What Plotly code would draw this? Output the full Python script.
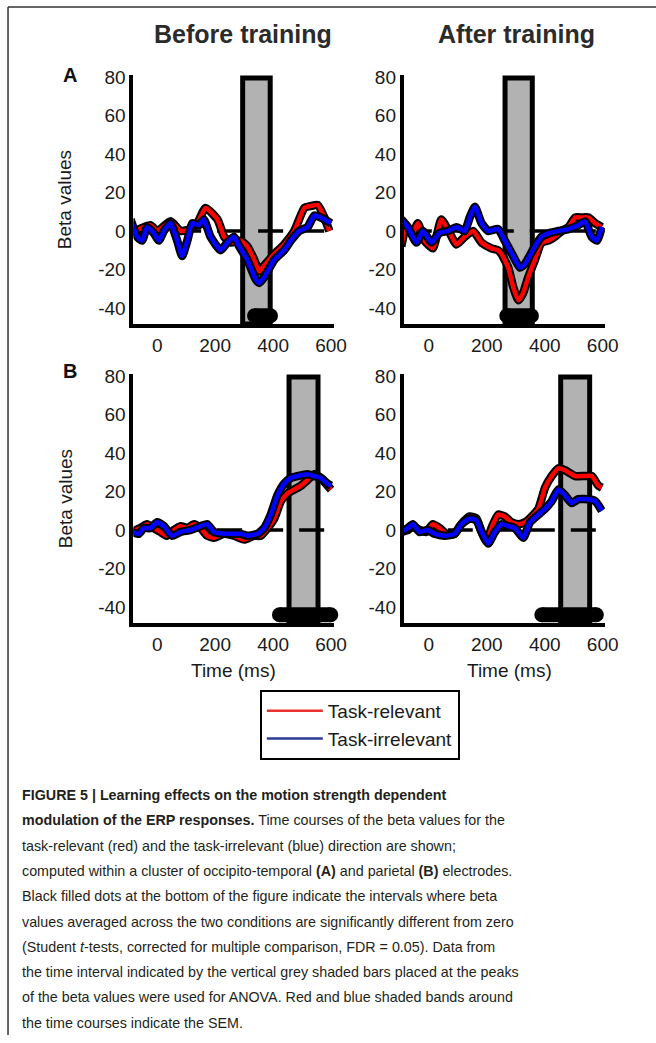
import plotly.graph_objects as go

W, H = 656, 1043          # requested figure size
PW, PH = 640, 1035        # effective drawing area observed in the browser

# ---------------- data ----------------
# Panel A (occipito-temporal), before training
a_before_red_t = [-92, -46, -23, 0, 46, 81, 115, 138, 167, 208, 231, 254, 288, 311, 335, 352, 369, 404, 438, 473, 508, 531, 554, 577, 594]
a_before_red_v = [-1, 2, 3, 0, 5, 0, 1, 4, 12, 6, -3, -6, -5, -8, -15, -21, -18, -12, -7, 0, 12, 13, 13.5, 7, 0]
a_before_blue_t = [-92, -69, -52, -35, -12, 6, 23, 46, 69, 86, 104, 121, 144, 161, 184, 219, 242, 265, 283, 311, 340, 352, 369, 404, 438, 461, 490, 519, 542, 565, 600]
a_before_blue_v = [6, -3, -5, 2, -1, -5, 0, 4, -5, -13, -5, 4, 3, 6, -3, -10, -6, -3, -8, -15, -25, -27, -24, -15, -10, -5, 0, 2, 8, 7, 4]

# Panel A, after training
a_after_red_t = [-95, -78, -55, -38, -15, 14, 43, 72, 95, 124, 153, 182, 216, 239, 251, 274, 291, 309, 326, 343, 366, 389, 412, 435, 459, 482, 505, 528, 551, 574, 597]
a_after_red_v = [-8, 2, -1, 4, -5, -9, 6, -1, -7, -3, 0, -6, -9, -10, -12, -19, -29, -36, -32, -24, -15, -6, -5, -3, 0, 2, 7, 7, 7, 4, 2]
a_after_blue_t = [-95, -72, -43, -20, 9, 37, 66, 95, 124, 141, 159, 182, 205, 239, 262, 291, 314, 332, 366, 389, 418, 447, 482, 516, 539, 562, 580, 597]
a_after_blue_v = [6, 2, -6, 0, -6, -1, 0, 2, 0, 7, 12.6, 4, 0, 1, -5, -13, -19, -17, -8, -3, -1, 0, 1, 3, 5, -3, -5, 2]

# Panel B (parietal), before training
b_before_red_t = [-87, -58, -35, -12, 11, 34, 58, 81, 104, 127, 150, 173, 196, 230, 265, 300, 334, 357, 381, 404, 427, 450, 473, 496, 519, 542, 565, 588, 600]
b_before_red_v = [-1, 1, 3, 1, -1, -3, 0, 2, 1, 3, 1, -3, -4, -2, -3, -5, -3, -3, 1, 6, 15, 19, 21, 23, 26, 29, 27, 23, 21]
b_before_blue_t = [-87, -64, -46, -23, 0, 23, 52, 81, 115, 150, 173, 196, 242, 288, 311, 346, 369, 392, 415, 438, 461, 484, 519, 542, 565, 588, 600]
b_before_blue_v = [-1, -2, 1, 1, 4, 2, -3, -1, 0, 2, 3, -1, -2, -2, -3, -2, 1, 8, 18, 24, 27, 28, 29, 28, 27, 24, 23]

# Panel B, after training
b_after_red_t = [-95, -72, -55, -32, -9, 14, 37, 60, 89, 112, 141, 164, 182, 199, 216, 239, 262, 285, 309, 332, 355, 378, 401, 424, 447, 470, 505, 539, 562, 585, 597]
b_after_red_v = [-1, 0, 2, 0, -1, 3, 1, -2, -2, 3, 7, 6, -1, -6, 1, 8, 7, 4, 3, 4, 7, 11, 22, 28, 32, 31, 28, 28, 28, 23, 22]
b_after_blue_t = [-95, -72, -55, -32, -3, 20, 55, 89, 112, 141, 164, 182, 205, 228, 251, 274, 297, 326, 349, 378, 401, 424, 447, 470, 493, 516, 551, 574, 597]
b_after_blue_v = [-1, 1, 3, -1, 0, -2, -3, -2, 3, 6, 5, -1, -7, -1, 3, 2, 1, -4, 4, 8, 11, 15, 21, 18, 14, 16, 16, 15, 10]

# ANOVA windows (grey bars) in ms
anova_win = {"A_before": [295, 390], "A_after": [263, 357], "B_before": [455, 555], "B_after": [455, 555]}
# significant intervals (black dots) in ms
sig_win = {"A_before": [336, 391], "A_after": [269, 354], "B_before": [422, 599], "B_after": [390, 578]}
SIG_LEVEL = -44

x_ticks = [0, 200, 400, 600]
x_ticktext = ["0", "200", "400", "600"]
y_ticks = [-40, -20, 0, 20, 40, 60, 80]
y_ticktext = ["-40", "-20", "0", "20", "40", "60", "80"]
legend_names = ["Task-relevant", "Task-irrelevant"]
col_titles = ["Before training", "After training"]
row_labels = ["A", "B"]

caption_lines = [
    "<b>FIGURE 5 | Learning effects on the motion strength dependent</b>",
    "<b>modulation of the ERP responses.</b> Time courses of the beta values for the",
    "task-relevant (red) and the task-irrelevant (blue) direction are shown;",
    "computed within a cluster of occipito-temporal <b>(A)</b> and parietal <b>(B)</b> electrodes.",
    "Black filled dots at the bottom of the figure indicate the intervals where beta",
    "values averaged across the two conditions are significantly different from zero",
    "(Student <i>t</i>-tests, corrected for multiple comparison, FDR = 0.05). Data from",
    "the time interval indicated by the vertical grey shaded bars placed at the peaks",
    "of the beta values were used for ANOVA. Red and blue shaded bands around",
    "the time courses indicate the SEM.",
]

# ---------------- layout helpers (screen px -> paper fraction) ----------------
def px(x):
    return x / PW

def py(y):
    return 1 - y / PH

FONT = "Liberation Sans, Arial, Helvetica, sans-serif"
RED, BLUE = "#ff0000", "#0000ff"

Y_RANGE = [-48.3, 81]
panels = [
    ("A_before", "", (133, 333), [-82, 610.3], (75, 324), a_before_red_t, a_before_red_v, a_before_blue_t, a_before_blue_v),
    ("A_after", "2", (402.5, 603), [-86.5, 607.5], (75, 324), a_after_red_t, a_after_red_v, a_after_blue_t, a_after_blue_v),
    ("B_before", "3", (133, 333), [-82, 610.3], (374, 623), b_before_red_t, b_before_red_v, b_before_blue_t, b_before_blue_v),
    ("B_after", "4", (402.5, 603), [-86.5, 607.5], (374, 623), b_after_red_t, b_after_red_v, b_after_blue_t, b_after_blue_v),
]

fig = go.Figure()
shapes = []
layout_axes = {}

for key, s, xd, xr, yd, rt, rv, bt, bv in panels:
    xa, ya = "x" + s, "y" + s
    for t, v, c in ((rt, rv, RED), (bt, bv, BLUE)):
        fig.add_trace(go.Scatter(x=t, y=v, xaxis=xa, yaxis=ya, mode="lines",
                                 line=dict(color="black", width=8.5, shape="spline", smoothing=0.5),
                                 showlegend=False, hoverinfo="skip"))
        fig.add_trace(go.Scatter(x=t, y=v, xaxis=xa, yaxis=ya, mode="lines",
                                 line=dict(color=c, width=4.5, shape="spline", smoothing=0.5),
                                 showlegend=False))
    sw = sig_win[key]
    fig.add_trace(go.Scatter(x=sw, y=[SIG_LEVEL, SIG_LEVEL], xaxis=xa, yaxis=ya, mode="lines+markers",
                             line=dict(color="black", width=15), marker=dict(color="black", size=15),
                             showlegend=False, cliponaxis=False))
    aw = anova_win[key]
    shapes.append(dict(type="rect", xref=xa, yref=ya, x0=aw[0], x1=aw[1], y0=Y_RANGE[0], y1=79.5,
                       fillcolor="#b2b2b2", line=dict(color="black", width=5), layer="below"))
    shapes.append(dict(type="line", xref=xa, yref=ya, x0=-76, x1=600, y0=0, y1=0,
                       line=dict(color="black", width=3.5, dash="25px,16px"), layer="below"))

    axis_common = dict(showline=True, linewidth=4, linecolor="black", showgrid=False, zeroline=False,
                       ticks="", tickfont=dict(family=FONT, size=19, color="#1a1a1a"), fixedrange=True)
    layout_axes["xaxis" + s] = dict(axis_common, domain=[px(xd[0]), px(xd[1])], range=xr,
                                    tickvals=x_ticks, ticktext=x_ticktext, anchor=ya, ticklabelstandoff=1)
    layout_axes["yaxis" + s] = dict(axis_common, domain=[py(yd[1]), py(yd[0])], range=Y_RANGE,
                                    tickvals=y_ticks, ticktext=y_ticktext, anchor=xa, ticklabelstandoff=0)

for name, c in zip(legend_names, ["#e8312f", "#2b3a97"]):
    fig.add_trace(go.Scatter(x=[None], y=[None], mode="lines", name=name,
                             line=dict(color=c, width=2.5), showlegend=True))

annotations = []
for txt, cx in zip(col_titles, [242, 515]):
    annotations.append(dict(text="<b>" + txt + "</b>", x=px(cx), y=py(34), xref="paper", yref="paper",
                            xanchor="center", yanchor="middle", showarrow=False,
                            font=dict(family=FONT, size=25, color="#2b2b2b")))
for txt, cy in zip(row_labels, [75, 371]):
    annotations.append(dict(text="<b>" + txt + "</b>", x=px(70), y=py(cy), xref="paper", yref="paper",
                            xanchor="center", yanchor="middle", showarrow=False,
                            font=dict(family=FONT, size=20, color="#111")))
for cy in [200, 499]:
    annotations.append(dict(text="Beta values", x=px(65), y=py(cy), xref="paper", yref="paper",
                            xanchor="center", yanchor="middle", textangle=-90, showarrow=False,
                            font=dict(family=FONT, size=19, color="#1a1a1a")))
for cx in [233, 508]:
    annotations.append(dict(text="Time (ms)", x=px(cx), y=py(670), xref="paper", yref="paper",
                            xanchor="center", yanchor="middle", showarrow=False,
                            font=dict(family=FONT, size=19, color="#1a1a1a")))
for i, line in enumerate(caption_lines):
    annotations.append(dict(text=line, x=px(20), y=py(795 + 25.3 * i), xref="paper", yref="paper",
                            xanchor="left", yanchor="middle", showarrow=False, align="left",
                            font=dict(family=FONT, size=14.3, color="#231f20")))

shapes.append(dict(type="line", xref="paper", yref="paper", x0=px(8), x1=px(656), y0=py(7), y1=py(7),
                   line=dict(color="#333", width=1.5)))
shapes.append(dict(type="line", xref="paper", yref="paper", x0=px(8), x1=px(8), y0=py(7), y1=py(1043),
                   line=dict(color="#333", width=1.5)))

fig.update_layout(
    width=W, height=H, autosize=False, margin=dict(l=0, r=0, t=0, b=0),
    paper_bgcolor="white", plot_bgcolor="rgba(0,0,0,0)",
    shapes=shapes, annotations=annotations,
    legend=dict(x=px(259), y=py(690), xanchor="left", yanchor="top", bgcolor="white",
                bordercolor="black", borderwidth=2, font=dict(family=FONT, size=19, color="#1a1a1a"),
                itemwidth=56, tracegroupgap=0),
    **layout_axes,
)

pin = ("var gd=document.getElementById('{plot_id}');"
       "document.body.style.margin='0';document.body.style.overflow='hidden';"
       "gd.style.position='fixed';gd.style.left='0px';gd.style.top='-8px';")
fig.write_html("out.html", post_script=pin,
               config={"displayModeBar": False, "responsive": False})
